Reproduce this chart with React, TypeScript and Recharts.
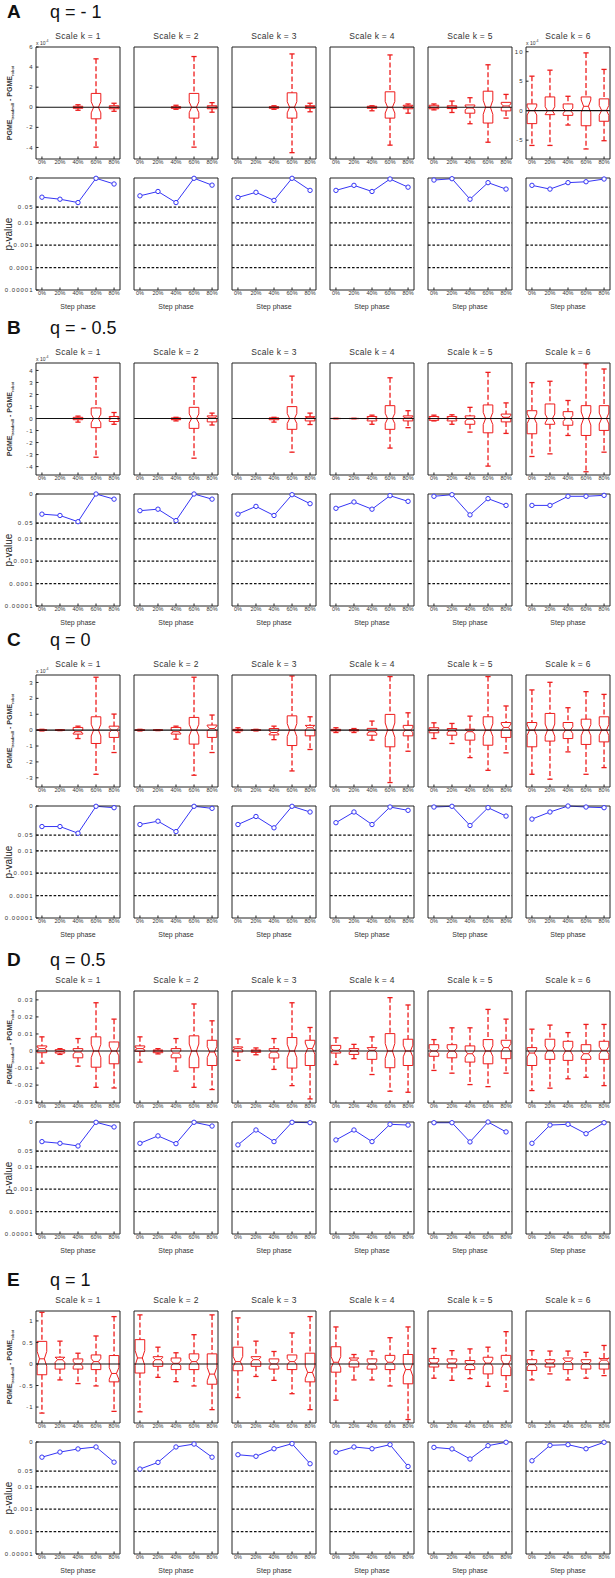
import React from 'react';
import { ComposedChart, Bar, Line, XAxis, YAxis, ReferenceLine } from 'recharts';

// ---------- categories & labels ----------
const categories = ['0%', '20%', '40%', '60%', '80%'];
const xPositions = [1, 2, 3, 4, 5];
const scaleLabels = ['Scale k = 1', 'Scale k = 2', 'Scale k = 3', 'Scale k = 4', 'Scale k = 5', 'Scale k = 6'];
const sectionLetters = ['A', 'B', 'C', 'D', 'E'];
const qLabels = ['q = - 1', 'q = - 0.5', 'q = 0', 'q = 0.5', 'q = 1'];
const xLabel = 'Step phase';
const pLabel = 'p-value';

// ---------- p-value axis ----------
const pTicks = [0.00001, 0.0001, 0.001, 0.01, 0.05, 1];
const pTickLabels = ['0.00001', '0.0001', '0.001', '0.01', '0.05', '0'];
const pThresholds = [0.05, 0.01, 0.001, 0.0001];

// ---------- box-plot y axes ----------
const yTicksA = [-4, -2, 0, 2, 4, 6];
const yTickLabelsA = ['-4', '-2', '0', '2', '4', '6'];
const yDomainA = [-5.15, 6];
const yTicksA6 = [-5, 0, 5, 10];
const yTickLabelsA6 = ['-5', '0', '5', '10'];
const yDomainA6 = [-8.2, 10.8];
const yTicksB = [-4, -3, -2, -1, 0, 1, 2, 3, 4];
const yTickLabelsB = ['-4', '-3', '-2', '-1', '0', '1', '2', '3', '4'];
const yDomainB = [-4.7, 4.62];
const yTicksC = [-3, -2, -1, 0, 1, 2, 3];
const yTickLabelsC = ['-3', '-2', '-1', '0', '1', '2', '3'];
const yDomainC = [-3.58, 3.47];
const yTicksD = [-0.03, -0.02, -0.01, 0, 0.01, 0.02, 0.03];
const yTickLabelsD = ['-0.03', '-0.02', '-0.01', '0', '0.01', '0.02', '0.03'];
const yDomainD = [-0.0305, 0.0352];
const yTicksE = [-1, -0.5, 0, 0.5, 1];
const yTickLabelsE = ['-1', '-0.5', '0', '0.5', '1'];
const yDomainE = [-1.37, 1.23];

// ---------- box data: [min, q1, median, q3, max] per step phase ----------
// q = -1 (x 10^-4)
const boxA1 = [[0, 0, 0, 0, 0], [0, 0, 0, 0, 0], [-0.3, -0.1, 0, 0.1, 0.25], [-3.97, -1.15, 0, 1.38, 4.82], [-0.4, -0.15, 0, 0.15, 0.4]];
const boxA2 = [[0, 0, 0, 0, 0], [0, 0, 0, 0, 0], [-0.2, -0.1, 0, 0.05, 0.2], [-3.97, -1.08, 0, 1.38, 5.05], [-0.49, -0.15, 0, 0.15, 0.46]];
const boxA3 = [[0, 0, 0, 0, 0], [0, 0, 0, 0, 0], [-0.2, -0.1, 0, 0.05, 0.15], [-4.52, -1.08, 0, 1.44, 5.31], [-0.45, -0.1, 0.05, 0.15, 0.4]];
const boxA4 = [[0, 0, 0, 0, 0], [0, 0, 0, 0, 0], [-0.35, -0.1, 0, 0.1, 0.15], [-3.77, -1.08, 0, 1.54, 5.21], [-0.59, -0.15, 0.05, 0.2, 0.33]];
const boxA5 = [[-0.26, -0.15, 0, 0.2, 0.33], [-0.52, -0.13, 0, 0.15, 0.62], [-1.64, -0.59, -0.07, 0.23, 0.95], [-3.48, -1.57, 0, 1.6, 4.23], [-1.08, -0.36, 0.13, 0.49, 1.28]];
const boxA6 = [[-5.9, -2.2, 0, 1.14, 5.85], [-5.9, -0.68, 0, 2.33, 6.87], [-2.44, -0.8, 0, 1.14, 2.44], [-6.5, -2.56, 0.74, 2.33, 9.8], [-5.1, -1.8, 0.05, 2.0, 7.0]];
// q = -0.5 (x 10^-4)
const boxB1 = [[0, 0, 0, 0, 0], [0, 0, 0, 0, 0], [-0.3, -0.1, 0, 0.1, 0.2], [-3.22, -0.76, 0, 0.88, 3.42], [-0.48, -0.25, 0, 0.17, 0.5]];
const boxB2 = [[0, 0, 0, 0, 0], [0, 0, 0, 0, 0], [-0.2, -0.1, -0.05, 0.05, 0.1], [-3.3, -0.82, 0, 0.93, 3.42], [-0.54, -0.28, 0.05, 0.22, 0.45]];
const boxB3 = [[0, 0, 0, 0, 0], [0, 0, 0, 0, 0], [-0.3, -0.1, 0, 0.05, 0.1], [-2.8, -0.9, 0, 0.99, 3.53], [-0.5, -0.2, 0.05, 0.15, 0.45]];
const boxB4 = [[-0.02, -0.01, 0, 0.01, 0.02], [-0.02, -0.01, 0, 0.01, 0.02], [-0.48, -0.2, 0, 0.17, 0.28], [-2.46, -0.9, 0, 1.07, 3.39], [-0.76, -0.2, 0.05, 0.22, 0.65]];
const boxB5 = [[-0.2, -0.15, 0, 0.17, 0.28], [-0.48, -0.2, 0, 0.17, 0.31], [-1.13, -0.48, -0.05, 0.22, 0.93], [-3.96, -1.19, 0, 1.13, 3.84], [-1.24, -0.28, 0.1, 0.37, 1.3]];
const boxB6 = [[-3.16, -1.27, 0, 0.65, 2.99], [-2.94, -0.48, 0, 1.21, 3.1], [-1.41, -0.56, 0, 0.57, 1.5], [-4.43, -1.41, 0, 1.07, 4.55], [-2.8, -0.99, 0, 1.07, 4.12]];
// q = 0 (x 10^-4)
const boxC1 = [[-0.05, -0.02, 0, 0.02, 0.05], [-0.03, -0.01, 0, 0.01, 0.03], [-0.53, -0.25, -0.1, 0.17, 0.25], [-2.78, -0.84, 0, 0.84, 3.33], [-1.41, -0.46, 0, 0.25, 1.01]];
const boxC2 = [[-0.05, -0.02, 0, 0.02, 0.05], [-0.03, -0.01, 0, 0.01, 0.03], [-0.57, -0.25, -0.1, 0.17, 0.25], [-2.84, -0.88, 0, 0.8, 3.33], [-1.41, -0.46, 0.1, 0.32, 0.95]];
const boxC3 = [[-0.15, -0.05, 0, 0.05, 0.15], [-0.05, -0.02, 0, 0.02, 0.05], [-0.6, -0.3, -0.15, 0.1, 0.25], [-2.57, -0.97, 0, 0.9, 3.41], [-1.22, -0.36, 0.15, 0.3, 0.84]];
const boxC4 = [[-0.15, -0.05, 0, 0.05, 0.15], [-0.15, -0.05, 0, 0.03, 0.1], [-0.63, -0.32, -0.1, 0.11, 0.57], [-3.3, -1.05, 0, 0.99, 3.37], [-1.33, -0.36, 0, 0.3, 1.09]];
const boxC5 = [[-0.53, -0.17, 0, 0.15, 0.46], [-0.84, -0.32, -0.05, 0.1, 0.42], [-1.73, -0.63, -0.1, 0.06, 0.88], [-2.53, -0.95, 0, 0.84, 3.37], [-1.43, -0.46, 0.17, 0.48, 1.52]];
const boxC6 = [[-2.78, -1.05, 0, 0.48, 2.53], [-3.09, -0.69, 0, 1.05, 3.01], [-1.37, -0.53, 0, 0.48, 1.41], [-2.78, -0.9, 0, 0.69, 2.42], [-2.36, -0.74, 0, 0.84, 2.25]];
// q = 0.5
const boxD1 = [[-0.0071, -0.001, 0.0014, 0.003, 0.0083], [-0.002, -0.0012, -0.0003, 0.0008, 0.0014], [-0.0089, -0.004, -0.0006, 0.0014, 0.0073], [-0.0213, -0.0095, 0, 0.0083, 0.0283], [-0.0217, -0.0075, 0, 0.0053, 0.0187]];
const boxD2 = [[-0.0065, -0.0002, 0.0014, 0.003, 0.0083], [-0.0017, -0.001, 0, 0.0006, 0.0014], [-0.0118, -0.004, -0.0012, 0.0014, 0.0073], [-0.0213, -0.0098, 0, 0.0089, 0.0276], [-0.0226, -0.0085, -0.0006, 0.0063, 0.0177]];
const boxD3 = [[-0.0055, -0.0006, 0.0014, 0.0024, 0.0071], [-0.0022, -0.0008, 0, 0.0006, 0.0018], [-0.0108, -0.0041, -0.0006, 0.0014, 0.0073], [-0.0203, -0.01, 0, 0.0079, 0.0283], [-0.0281, -0.0085, 0.0014, 0.0063, 0.0138]];
const boxD4 = [[-0.0079, -0.0012, 0.0004, 0.0033, 0.0077], [-0.0045, -0.002, 0, 0.0014, 0.0039], [-0.0138, -0.0049, 0.0004, 0.002, 0.0083], [-0.0236, -0.0098, 0, 0.0102, 0.0313], [-0.0242, -0.0085, 0, 0.0069, 0.027]];
const boxD5 = [[-0.0114, -0.0031, 0, 0.0037, 0.0067], [-0.013, -0.004, 0, 0.0037, 0.0136], [-0.0197, -0.0065, -0.0016, 0.003, 0.0136], [-0.0209, -0.0075, 0, 0.0067, 0.0244], [-0.013, -0.0045, 0.002, 0.0063, 0.0187]];
const boxD6 = [[-0.0232, -0.0085, -0.0012, 0.002, 0.0128], [-0.0218, -0.0049, 0.0004, 0.0069, 0.0152], [-0.0163, -0.0055, 0, 0.0057, 0.0108], [-0.0154, -0.0049, -0.0016, 0.0037, 0.0156], [-0.0203, -0.0049, 0.0004, 0.0057, 0.0156]];
// q = 1
const boxE1 = [[-1.14, -0.25, 0.12, 0.525, 1.2], [-0.37, -0.118, 0.1, 0.157, 0.53], [-0.455, -0.118, 0, 0.118, 0.25], [-0.51, -0.13, 0.055, 0.21, 0.65], [-1.1, -0.415, -0.22, 0.196, 1.1]];
const boxE2 = [[-1.11, -0.21, 0.14, 0.565, 1.14], [-0.31, -0.055, 0.1, 0.17, 0.39], [-0.41, -0.13, 0.015, 0.14, 0.26], [-0.51, -0.13, 0.055, 0.235, 0.68], [-1.06, -0.47, -0.235, 0.235, 1.14]];
const boxE3 = [[-0.78, -0.157, 0.055, 0.39, 1.07], [-0.29, -0.055, 0.1, 0.17, 0.53], [-0.38, -0.118, 0, 0.118, 0.29], [-0.69, -0.13, 0.055, 0.21, 0.72], [-1.06, -0.415, -0.196, 0.25, 1.1]];
const boxE4 = [[-0.84, -0.19, 0.04, 0.4, 0.86], [-0.37, -0.07, 0.09, 0.14, 0.22], [-0.37, -0.118, 0, 0.118, 0.3], [-0.51, -0.13, 0.04, 0.2, 0.61], [-1.29, -0.46, -0.13, 0.22, 0.86]];
const boxE5 = [[-0.33, -0.07, 0.02, 0.125, 0.36], [-0.38, -0.09, 0.02, 0.118, 0.31], [-0.34, -0.13, -0.015, 0.08, 0.35], [-0.52, -0.23, 0.02, 0.157, 0.39], [-0.63, -0.27, 0, 0.2, 0.75]];
const boxE6 = [[-0.37, -0.15, -0.015, 0.1, 0.31], [-0.23, -0.07, 0.02, 0.1, 0.3], [-0.37, -0.13, 0.06, 0.14, 0.3], [-0.33, -0.118, 0.008, 0.1, 0.27], [-0.27, -0.118, 0.09, 0.125, 0.43]];

// ---------- p-values per step phase ----------
const pA1 = [0.139, 0.113, 0.08, 0.97, 0.54];
const pA2 = [0.16, 0.25, 0.08, 0.97, 0.48];
const pA3 = [0.135, 0.23, 0.1, 0.97, 0.28];
const pA4 = [0.28, 0.47, 0.25, 0.9, 0.39];
const pA5 = [0.81, 0.93, 0.113, 0.62, 0.32];
const pA6 = [0.47, 0.32, 0.62, 0.68, 0.9];
const pB1 = [0.126, 0.11, 0.058, 1.0, 0.59];
const pB2 = [0.18, 0.21, 0.065, 1.0, 0.59];
const pB3 = [0.126, 0.28, 0.11, 0.93, 0.37];
const pB4 = [0.23, 0.44, 0.21, 0.84, 0.47];
const pB5 = [0.79, 0.93, 0.117, 0.62, 0.31];
const pB6 = [0.31, 0.31, 0.79, 0.79, 0.87];
const pC1 = [0.121, 0.121, 0.061, 0.97, 0.84];
const pC2 = [0.149, 0.21, 0.072, 0.97, 0.785];
const pC3 = [0.149, 0.34, 0.106, 0.97, 0.54];
const pC4 = [0.18, 0.54, 0.149, 0.9, 0.64];
const pC5 = [0.9, 0.97, 0.135, 0.84, 0.355];
const pC6 = [0.26, 0.54, 1.0, 0.9, 0.84];
const pD1 = [0.133, 0.112, 0.085, 0.97, 0.6];
const pD2 = [0.112, 0.24, 0.108, 0.97, 0.66];
const pD3 = [0.095, 0.44, 0.133, 0.97, 0.93];
const pD4 = [0.158, 0.44, 0.133, 0.79, 0.73];
const pD5 = [0.93, 0.93, 0.129, 1.0, 0.36];
const pD6 = [0.112, 0.73, 0.79, 0.3, 0.93];
const pE1 = [0.21, 0.355, 0.49, 0.6, 0.126];
const pE2 = [0.062, 0.123, 0.6, 0.81, 0.21];
const pE3 = [0.27, 0.23, 0.5, 0.84, 0.107];
const pE4 = [0.35, 0.6, 0.5, 0.76, 0.081];
const pE5 = [0.575, 0.49, 0.174, 0.685, 0.97];
const pE6 = [0.145, 0.71, 0.76, 0.5, 0.97];

const sections = [
  { boxes: [boxA1, boxA2, boxA3, boxA4, boxA5, boxA6], pvals: [pA1, pA2, pA3, pA4, pA5, pA6], domain: yDomainA, ticks: yTicksA, labels: yTickLabelsA, mult: true,
    k6: { domain: yDomainA6, ticks: yTicksA6, labels: yTickLabelsA6 } },
  { boxes: [boxB1, boxB2, boxB3, boxB4, boxB5, boxB6], pvals: [pB1, pB2, pB3, pB4, pB5, pB6], domain: yDomainB, ticks: yTicksB, labels: yTickLabelsB, mult: true, k6: null },
  { boxes: [boxC1, boxC2, boxC3, boxC4, boxC5, boxC6], pvals: [pC1, pC2, pC3, pC4, pC5, pC6], domain: yDomainC, ticks: yTicksC, labels: yTickLabelsC, mult: true, k6: null },
  { boxes: [boxD1, boxD2, boxD3, boxD4, boxD5, boxD6], pvals: [pD1, pD2, pD3, pD4, pD5, pD6], domain: yDomainD, ticks: yTicksD, labels: yTickLabelsD, mult: false, k6: null },
  { boxes: [boxE1, boxE2, boxE3, boxE4, boxE5, boxE6], pvals: [pE1, pE2, pE3, pE4, pE5, pE6], domain: yDomainE, ticks: yTicksE, labels: yTickLabelsE, mult: false, k6: null },
];

// ---------- layout ----------
const PANEL_LEFTS = [36, 134, 232, 330, 428, 526];
const BOX_TOPS = [47, 363, 675, 991, 1311];
const LETTER_Y = [12, 328, 640, 960, 1280];
const PW = 84;
const PH = 112;
const P_OFFSET = 131;
const ML = 36;
const MT = 6;
const MR = 5;
const MB = 14;
const X_DOMAIN = [0.67, 5.33];
const RED = '#ee1c1c';
const BLUE = '#3535f5';
const FRAME = '#222';
const FONT = '"Liberation Sans", Arial, sans-serif';

function BoxShape(props: any) {
  const { x, y, width, height, payload } = props;
  if (!payload || !(payload.max - payload.min > 0) || !isFinite(y) || !isFinite(height)) return <g />;
  const { min, q1, med, q3, max } = payload;
  const cx = x + width / 2;
  const py = (v: number) => y + ((max - v) / (max - min)) * height;
  const hw = 4.8;
  const cw = 2.6;
  const n = 0.22 * (q3 - q1);
  const yq3 = py(q3);
  const yq1 = py(q1);
  const ym = py(med);
  const yn1 = py(med + n);
  const yn2 = py(med - n);
  const d = `M${cx - hw},${yq3} L${cx + hw},${yq3} L${cx + hw},${yn1} L${cx + hw / 2},${ym} L${cx + hw},${yn2} L${cx + hw},${yq1} L${cx - hw},${yq1} L${cx - hw},${yn2} L${cx - hw / 2},${ym} L${cx - hw},${yn1} Z`;
  return (
    <g>
      <line x1={cx} x2={cx} y1={py(max)} y2={yq3} stroke={RED} strokeWidth={1.3} strokeDasharray="5 2.5" />
      <line x1={cx} x2={cx} y1={yq1} y2={py(min)} stroke={RED} strokeWidth={1.3} strokeDasharray="5 2.5" />
      <line x1={cx - cw} x2={cx + cw} y1={py(max)} y2={py(max)} stroke={RED} strokeWidth={1.3} />
      <line x1={cx - cw} x2={cx + cw} y1={py(min)} y2={py(min)} stroke={RED} strokeWidth={1.3} />
      <path d={d} fill="none" stroke={RED} strokeWidth={1} />
      <line x1={cx - hw / 2} x2={cx + hw / 2} y1={ym} y2={ym} stroke={RED} strokeWidth={1} />
    </g>
  );
}

const xTickStyle = { fontSize: 5.5, fill: '#333' };
const yTickStyle = { fontSize: 6, fill: '#333', letterSpacing: 1.0 };

function Axes({ domain, ticks, labels, showY, scale }: any) {
  return [
    <XAxis key="xb" xAxisId="b" dataKey="x" type="number" domain={X_DOMAIN} ticks={xPositions} interval={0}
      tickFormatter={(v: number) => categories[v - 1]} height={MB} tickSize={-2.5} tickMargin={4}
      axisLine={{ stroke: FRAME }} tickLine={{ stroke: FRAME }} tick={xTickStyle} />,
    <XAxis key="xt" xAxisId="t" orientation="top" dataKey="x" type="number" domain={X_DOMAIN} ticks={xPositions} interval={0}
      height={1} tickSize={-2.5} tick={false} axisLine={{ stroke: FRAME }} tickLine={{ stroke: FRAME }} />,
    <YAxis key="yl" yAxisId="l" type="number" scale={scale} domain={domain} ticks={ticks} interval={0}
      tickFormatter={(v: number) => labels[ticks.indexOf(v)]} width={ML} tickSize={-2.5} tickMargin={5}
      axisLine={{ stroke: FRAME }} tickLine={{ stroke: FRAME }} tick={showY ? yTickStyle : false} />,
    <YAxis key="yr" yAxisId="r" orientation="right" type="number" scale={scale} domain={domain} ticks={ticks} interval={0}
      width={1} tickSize={-2.5} tick={false} axisLine={{ stroke: FRAME }} tickLine={{ stroke: FRAME }} />,
  ];
}

const CHART_MARGIN = { top: MT - 1, right: MR - 1, bottom: 0, left: 0 };

function BoxPanel({ boxes, domain, ticks, labels, showY, left, top }: any) {
  const data = boxes.map((b: number[], i: number) => ({
    x: xPositions[i], cat: categories[i], min: b[0], q1: b[1], med: b[2], q3: b[3], max: b[4], range: [b[0], b[4]],
  }));
  return (
    <div style={{ position: 'absolute', left: left - ML, top: top - MT }}>
      <ComposedChart width={ML + PW + MR} height={MT + PH + MB} data={data} margin={CHART_MARGIN}>
        {Axes({ domain, ticks, labels, showY, scale: 'linear' })}
        <ReferenceLine xAxisId="b" yAxisId="l" y={0} stroke="#111" strokeWidth={1.2} />
        <Line xAxisId="t" yAxisId="r" dataKey="med" stroke="none" dot={false} activeDot={false} isAnimationActive={false} legendType="none" />
        <Bar xAxisId="b" yAxisId="l" dataKey="range" barSize={10} shape={BoxShape} isAnimationActive={false} />
      </ComposedChart>
    </div>
  );
}

function PPanel({ pvals, showY, left, top }: any) {
  const data = pvals.map((p: number, i: number) => ({ x: xPositions[i], cat: categories[i], p }));
  return (
    <div style={{ position: 'absolute', left: left - ML, top: top - MT }}>
      <ComposedChart width={ML + PW + MR} height={MT + PH + MB} data={data} margin={CHART_MARGIN}>
        {Axes({ domain: [0.00001, 1], ticks: pTicks, labels: pTickLabels, showY, scale: 'log' })}
        {pThresholds.map((t) => (
          <ReferenceLine key={t} xAxisId="b" yAxisId="l" y={t} stroke="#111" strokeWidth={1.2} strokeDasharray="2.6 1.8" />
        ))}
        <Line xAxisId="t" yAxisId="r" dataKey="p" stroke="none" dot={false} activeDot={false} isAnimationActive={false} legendType="none" />
        <Line xAxisId="b" yAxisId="l" dataKey="p" stroke={BLUE} strokeWidth={1}
          dot={{ r: 2.2, fill: '#fff', stroke: BLUE, strokeWidth: 1 }} isAnimationActive={false} />
      </ComposedChart>
    </div>
  );
}

export default function App() {
  const items: any[] = [];
  sections.forEach((sec, si) => {
    const boxTop = BOX_TOPS[si];
    const pTop = boxTop + P_OFFSET;
    items.push(
      <div key={`L${si}`} style={{ position: 'absolute', left: 7, top: LETTER_Y[si] - 11, fontSize: 19, fontWeight: 'bold', lineHeight: '22px', color: '#111' }}>
        {sectionLetters[si]}
      </div>,
      <div key={`Q${si}`} style={{ position: 'absolute', left: 50, top: LETTER_Y[si] - 11, fontSize: 18, lineHeight: '22px', color: '#111' }}>
        {qLabels[si]}
      </div>,
      <div key={`YL${si}`} style={{ position: 'absolute', left: 11, top: boxTop + PH / 2, transform: 'translate(-50%, -50%) rotate(-90deg)', whiteSpace: 'nowrap', fontSize: 7, fontWeight: 'bold', color: '#333', lineHeight: '9px' }}>
        PGME<sub style={{ fontSize: 4 }}>treadmill</sub> - PGME<sub style={{ fontSize: 4 }}>robot</sub>
      </div>,
      <div key={`PL${si}`} style={{ position: 'absolute', left: 9, top: pTop + PH / 2, transform: 'translate(-50%, -50%) rotate(-90deg)', whiteSpace: 'nowrap', fontSize: 10, color: '#222', lineHeight: '12px' }}>
        {pLabel}
      </div>
    );
    PANEL_LEFTS.forEach((left, k) => {
      const own = k === 5 && sec.k6;
      const domain = own ? sec.k6!.domain : sec.domain;
      const ticks = own ? sec.k6!.ticks : sec.ticks;
      const labels = own ? sec.k6!.labels : sec.labels;
      const showY = k === 0 || !!own;
      items.push(
        <div key={`T${si}-${k}`} style={{ position: 'absolute', left: left + PW / 2, top: boxTop - 11, transform: 'translate(-50%, -50%)', whiteSpace: 'nowrap', fontSize: 8.5, letterSpacing: 0.3, color: '#333', lineHeight: '10px' }}>
          {scaleLabels[k]}
        </div>,
        <BoxPanel key={`B${si}-${k}`} boxes={sec.boxes[k]} domain={domain} ticks={ticks} labels={labels} showY={showY} left={left} top={boxTop} />,
        <PPanel key={`P${si}-${k}`} pvals={sec.pvals[k]} showY={k === 0} left={left} top={pTop} />,
        <div key={`S${si}-${k}`} style={{ position: 'absolute', left: left + PW / 2, top: pTop + PH + 16, transform: 'translate(-50%, -50%)', whiteSpace: 'nowrap', fontSize: 7, color: '#333', lineHeight: '9px' }}>
          {xLabel}
        </div>
      );
      if (sec.mult && (k === 0 || own)) {
        items.push(
          <div key={`M${si}-${k}`} style={{ position: 'absolute', left: left, top: boxTop - 9, fontSize: 5, color: '#333', lineHeight: '7px', whiteSpace: 'nowrap' }}>
            x 10<sup style={{ fontSize: 3.5 }}>-4</sup>
          </div>
        );
      }
    });
  });
  return (
    <div style={{ position: 'absolute', left: 0, top: 0, width: 615, height: 1578, background: '#fff', fontFamily: FONT, overflow: 'hidden' }}>
      {items}
    </div>
  );
}
